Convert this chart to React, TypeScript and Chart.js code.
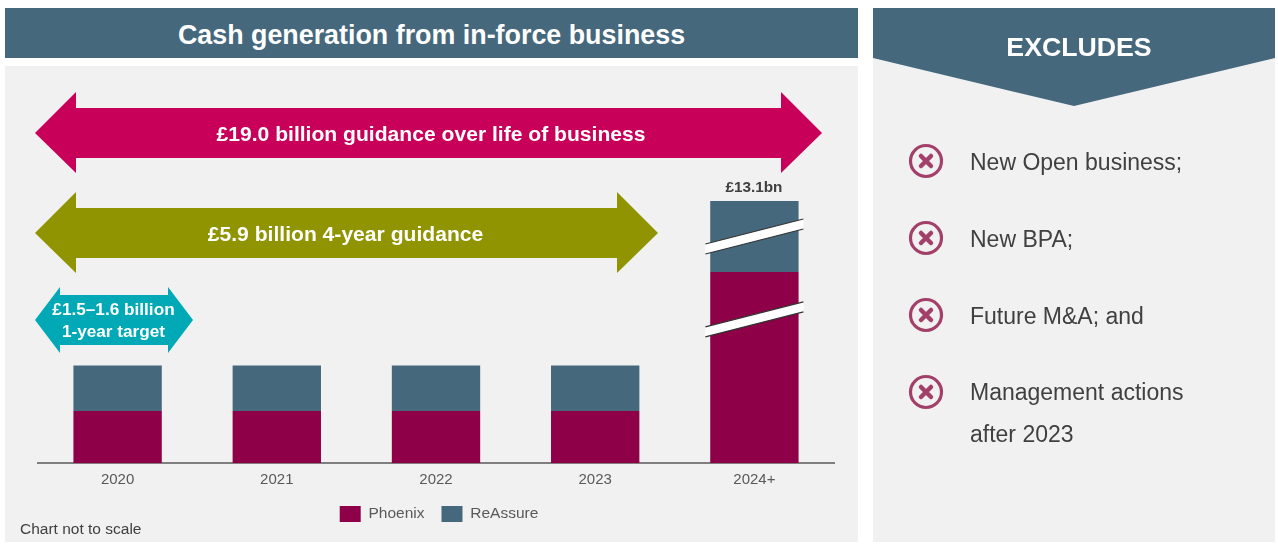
import React, { useEffect, useRef } from "react";
import { Chart, registerables } from "chart.js";

Chart.register(...registerables);

const categories = ["2020", "2021", "2022", "2023", "2024+"];
const phoenix = [0.8, 0.8, 0.8, 0.8, 2.94];
const reassure = [0.7, 0.7, 0.7, 0.7, 1.09];
const breakValues = [3.485, 2.21];
const totalLabel = "£13.1bn";
const excludes = [["New Open business;"], ["New BPA;"], ["Future M&A; and"], ["Management actions", "after 2023"]];

const SLATE = "#45687D";
const WINE = "#8E0047";
const FONT = "'Liberation Sans', Arial, sans-serif";

const annotatePlugin = {
  id: "annotate",
  beforeDraw(chart: any) {
    if (!chart.legend.$shifted) {
      chart.legend.left += 3;
      chart.legend.right += 3;
      chart.legend.$shifted = true;
    }
  },
  afterDatasetsDraw(chart: any) {
    const { ctx } = chart;
    const bar = chart.getDatasetMeta(1).data[4];
    const y = chart.scales.y;
    ctx.save();
    ctx.fillStyle = "#404040";
    ctx.font = `bold 15.3px ${FONT}`;
    ctx.textAlign = "center";
    ctx.textBaseline = "middle";
    ctx.fillText(totalLabel, bar.x - 0.5, bar.y - 13);
    breakValues.forEach((v) => {
      const cy = y.getPixelForValue(v);
      const dx = 49;
      const rise = 12.5;
      const half = 5;
      ctx.beginPath();
      ctx.moveTo(bar.x - dx, cy + rise - half);
      ctx.lineTo(bar.x + dx, cy - rise - half);
      ctx.lineTo(bar.x + dx, cy - rise + half);
      ctx.lineTo(bar.x - dx, cy + rise + half);
      ctx.closePath();
      ctx.fillStyle = "#ffffff";
      ctx.fill();
      ctx.strokeStyle = "#333333";
      ctx.lineWidth = 1.2;
      [-half, half].forEach((h) => {
        ctx.beginPath();
        ctx.moveTo(bar.x - dx, cy + rise + h);
        ctx.lineTo(bar.x + dx, cy - rise + h);
        ctx.stroke();
      });
    });
    ctx.restore();
  },
};

function Arrow({ points, fill, lines, size, cx, cy }: any) {
  return (
    <>
      <polygon points={points} fill={fill} />
      {lines.map((t: string, i: number) => (
        <text key={t} x={cx} y={cy + (i - (lines.length - 1) / 2) * 22} textAnchor="middle" dominantBaseline="central"
          fill="#fff" fontWeight="bold" fontSize={size} fontFamily={FONT}>{t}</text>
      ))}
    </>
  );
}

export default function App() {
  const ref = useRef<HTMLCanvasElement>(null);
  useEffect(() => {
    const chart = new Chart(ref.current!, {
      type: "bar",
      data: {
        labels: categories,
        datasets: [
          { label: "Phoenix", data: phoenix, backgroundColor: WINE, categoryPercentage: 1, barPercentage: 0.555 },
          { label: "ReAssure", data: reassure, backgroundColor: SLATE, categoryPercentage: 1, barPercentage: 0.555 },
        ],
      },
      options: {
        animation: false,
        responsive: false,
        layout: { padding: { left: 33, right: 24, top: 124, bottom: 10 } },
        scales: {
          x: {
            stacked: true,
            grid: { display: false },
            border: { display: true, color: "#7f7f7f", width: 2 },
            ticks: { color: "#595959", font: { size: 15, family: FONT }, padding: 0 },
          },
          y: { stacked: true, display: false, min: 0, max: 4.2 },
        },
        plugins: {
          tooltip: { enabled: false },
          title: { display: false },
          legend: {
            position: "bottom",
            labels: { boxWidth: 21, boxHeight: 16, color: "#595959", font: { size: 15.5, family: FONT }, padding: 17 },
          },
        },
      },
      plugins: [annotatePlugin],
    });
    return () => chart.destroy();
  }, []);

  return (
    <div style={{ position: "absolute", left: 0, top: 0, width: 1278, height: 558, background: "#fff", overflow: "hidden", fontFamily: FONT }}>
      <div style={{ position: "absolute", left: 5, top: 8, width: 853, height: 50, background: SLATE, color: "#fff", fontWeight: "bold", fontSize: 26.85, lineHeight: "54px", textAlign: "center" }}>
        Cash generation from in-force business
      </div>
      <div style={{ position: "absolute", left: 5, top: 66, width: 853, height: 476, background: "#F1F1F1" }} />
      <div style={{ position: "absolute", left: 873, top: 8, width: 402, height: 534, background: "#F1F1F1" }} />
      <canvas ref={ref} width={853} height={476} style={{ position: "absolute", left: 5, top: 66, display: "block" }} />
      <svg width={1278} height={558} style={{ position: "absolute", left: 0, top: 0 }}>
        <Arrow points="35,133 76,92 76,108 781,108 781,92 822,133 781,173 781,158 76,158 76,173" fill="#C8005A" lines={["£19.0 billion guidance over life of business"]} size={21.1} cx={431} cy={133} />
        <Arrow points="35,233 76,192 76,208 617,208 617,192 658,233 617,273 617,258 76,258 76,273" fill="#8F9400" lines={["£5.9 billion 4-year guidance"]} size={21.1} cx={345.5} cy={233} />
        <Arrow points="35,320 60,287 60,295 168,295 168,287 193,320 168,353 168,345 60,345 60,353" fill="#00A9B5" lines={["£1.5–1.6 billion", "1-year target"]} size={17.2} cx={113.5} cy={320} />
        <polygon points="873,8 1275,8 1275,58 1074,106 873,58" fill={SLATE} />
        <text x={1079} y={47} textAnchor="middle" dominantBaseline="central" fill="#fff" fontWeight="bold" fontSize={26.7} fontFamily={FONT}>EXCLUDES</text>
        {excludes.map((lines, i) => {
          const cy = 161 + i * 77;
          return (
            <g key={i}>
              <circle cx={926} cy={cy} r={15.5} fill="none" stroke="#A34069" strokeWidth={3.2} />
              <path d={`M${921} ${cy - 5}L${931} ${cy + 5}M${931} ${cy - 5}L${921} ${cy + 5}`} stroke="#A34069" strokeWidth={4.5} strokeLinecap="round" />
              {lines.map((t, j) => (
                <text key={t} x={970} y={cy + (i < 3 ? 1 : 0) + j * 42} dominantBaseline="central" fill="#404040" fontSize={23} fontFamily={FONT}>{t}</text>
              ))}
            </g>
          );
        })}
        <text x={20} y={528.5} dominantBaseline="central" fill="#404040" fontSize={15.5} fontFamily={FONT}>Chart not to scale</text>
      </svg>
    </div>
  );
}
